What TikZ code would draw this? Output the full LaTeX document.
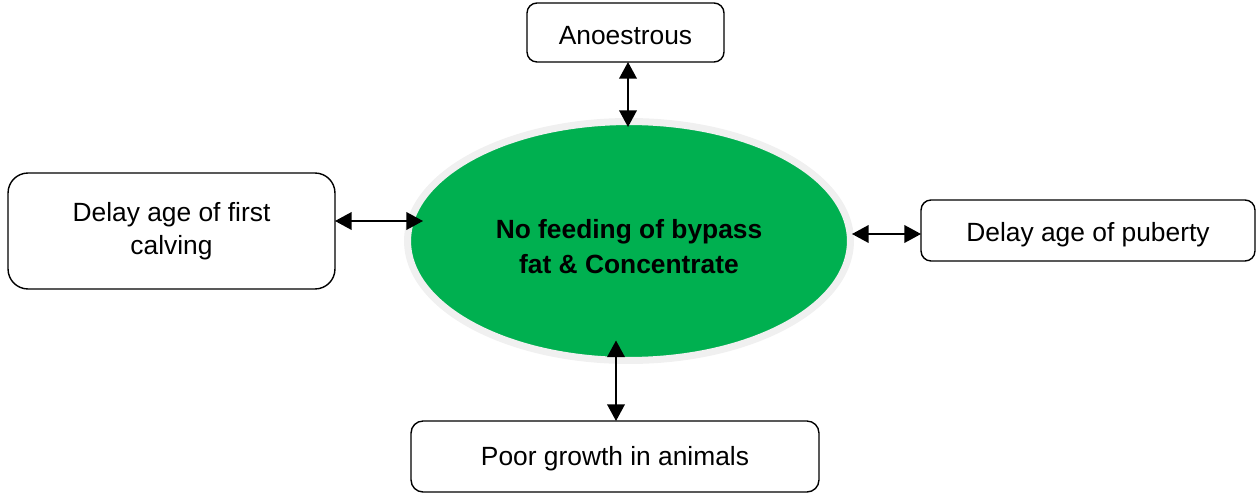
\documentclass[tikz,border=0pt]{standalone}
\usepackage{fontspec}
\setmainfont{Liberation Sans}
\usetikzlibrary{shapes.geometric,arrows.meta}
\definecolor{feedgreen}{HTML}{00B050}
\definecolor{rimgray}{HTML}{F0F0F0}

\begin{document}
\begin{tikzpicture}[x=0.02cm,y=-0.02cm,
  box/.style={draw,line width=0.8pt,rounded corners=0.2cm,align=center,outer sep=0pt,inner sep=0pt,font=\fontsize{15}{19}\selectfont},
  both/.style={line width=1.1pt,{Triangle[width=10pt,length=9.5pt]}-{Triangle[width=10pt,length=9.5pt]}}]
\useasboundingbox (0,0) rectangle (1257,493);
\node[ellipse,fill=feedgreen,draw=rimgray,line width=4pt,outer sep=0pt,minimum width=8.86cm,minimum height=4.78cm,align=center,font=\fontsize{15}{19.8}\selectfont\bfseries] (main) at (629,241) {\rule{0pt}{17pt}No feeding of bypass\\fat \& Concentrate};
\node[box,minimum width=3.94cm,minimum height=1.18cm,text height=14.1pt,text depth=0pt] (an) at (625.5,32.5) {Anoestrous};
\node[box,rounded corners=0.4cm,minimum width=6.54cm,minimum height=2.32cm] (fc) at (171.5,231) {Delay age of first\\calving};
\node[box,minimum width=6.68cm,minimum height=1.22cm,text height=15.5pt,text depth=3.2pt] (pu) at (1088,230.5) {Delay age of puberty};
\node[box,rounded corners=0.24cm,minimum width=8.16cm,minimum height=1.42cm,text height=13.1pt,text depth=3.2pt] (pg) at (615,456.5) {Poor growth in animals};
\draw[both] ([xshift=0.05cm]an.south) -- ([xshift=-0.02cm,yshift=-0.11cm]main.north);
\draw[both] ([yshift=0.2cm]fc.east) -- ([xshift=0.31cm,yshift=0.4cm]main.west);
\draw[both] ([xshift=0.03cm,yshift=0.14cm]main.east) -- ([yshift=-0.07cm]pu.west);
\draw[both] ([xshift=-0.26cm,yshift=0.4cm]main.south) -- ([xshift=0.02cm]pg.north);
\end{tikzpicture}
\end{document}
